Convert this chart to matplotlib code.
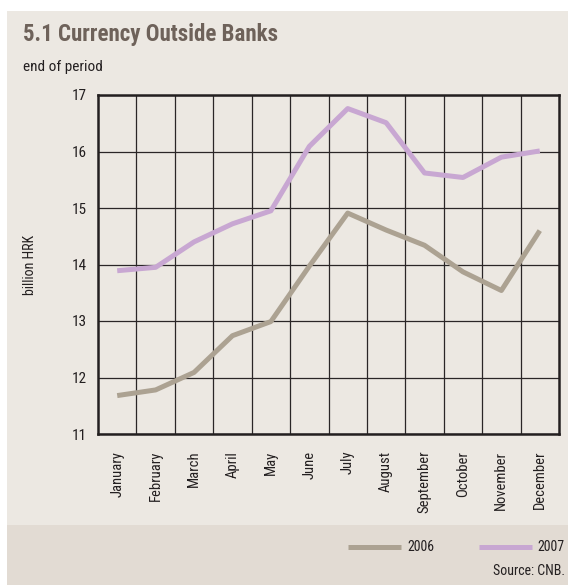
import matplotlib.pyplot as plt
from matplotlib.lines import Line2D
from matplotlib.patches import Rectangle

plt.rcParams["font.family"] = ["Roboto Condensed", "DejaVu Sans"]

months = ["January", "February", "March", "April", "May", "June", "July",
          "August", "September", "October", "November", "December"]
y2006 = [11.68, 11.78, 12.09, 12.74, 12.99, 13.97, 14.91, 14.61, 14.34, 13.87, 13.54, 14.60]
y2007 = [13.89, 13.95, 14.40, 14.72, 14.95, 16.09, 16.76, 16.51, 15.62, 15.54, 15.90, 16.01]
yticks = [11, 12, 13, 14, 15, 16, 17]

BG = "#ece8e2"
BAND = "#e2dbd3"
C2006 = "#aca292"
C2007 = "#c8a7d2"
TXT = "#231f20"

W, H = 568, 585
fig = plt.figure(figsize=(W / 100, H / 100), dpi=100)
fig.patch.set_facecolor("white")

# panel backgrounds
fig.patches.append(Rectangle((7 / W, 0), 1 - 7 / W, 1 - 11 / H, transform=fig.transFigure,
                             facecolor=BG, edgecolor="none", zorder=-2))
fig.patches.append(Rectangle((7 / W, 0), 1 - 7 / W, 1 - 525 / H, transform=fig.transFigure,
                             facecolor=BAND, edgecolor="none", zorder=-1))

ax = fig.add_axes([98 / W, 1 - 434 / H, (559 - 98) / W, (434 - 95) / H])
ax.set_zorder(2)
ax.set_facecolor(BG)

x = list(range(len(months)))
ax.plot(x, y2006, color=C2006, lw=3.6, solid_capstyle="butt", zorder=3)
ax.plot(x, y2007, color=C2007, lw=3.6, solid_capstyle="butt", zorder=3)

ax.set_xlim(-0.5, 11.5)
ax.set_ylim(11, 17)
ax.set_yticks(yticks)
ax.set_yticklabels([str(v) for v in yticks], fontsize=11, color=TXT)
ax.set_xticks(x)
ax.set_xticklabels(months, rotation=90, fontsize=10.5, color=TXT, va="top")
ax.set_xticks([i + 0.5 for i in x[:-1]], minor=True)
ax.tick_params(axis="both", which="both", length=0)
ax.tick_params(axis="y", pad=8)
ax.tick_params(axis="x", pad=12)
ax.grid(True, which="minor", axis="x", color="#2a2627", lw=0.9)
ax.grid(True, which="major", axis="y", color="#2a2627", lw=0.9)
for s in ax.spines.values():
    s.set_color("#231f20")
    s.set_linewidth(1.8)

fig.text(23 / W, 1 - 35 / H, "5.1 Currency Outside Banks", fontsize=16.5, fontweight="bold",
         color="#6e625a", va="center", ha="left")
fig.text(23 / W, 1 - 67 / H, "end of period", fontsize=11, color=TXT, va="center", ha="left")
fig.text(30 / W, 1 - 265 / H, "billion HRK", fontsize=10, color=TXT, rotation=90,
         va="center", ha="center")

# legend in bottom band
for x0, x1, tx, c, lab in [(348, 401, 407, C2006, "2006"), (479, 532, 537, C2007, "2007")]:
    fig.add_artist(Line2D([x0 / W, x1 / W], [1 - 547 / H, 1 - 547 / H], color=c, lw=3.6,
                          solid_capstyle="butt", transform=fig.transFigure))
    fig.text(tx / W, 1 - 547 / H, lab, fontsize=10, color=TXT, va="center", ha="left")
fig.text(565 / W, 1 - 571 / H, "Source: CNB.", fontsize=10, color=TXT, va="center", ha="right")

fig.savefig("out.png", dpi=100, facecolor=fig.get_facecolor())
